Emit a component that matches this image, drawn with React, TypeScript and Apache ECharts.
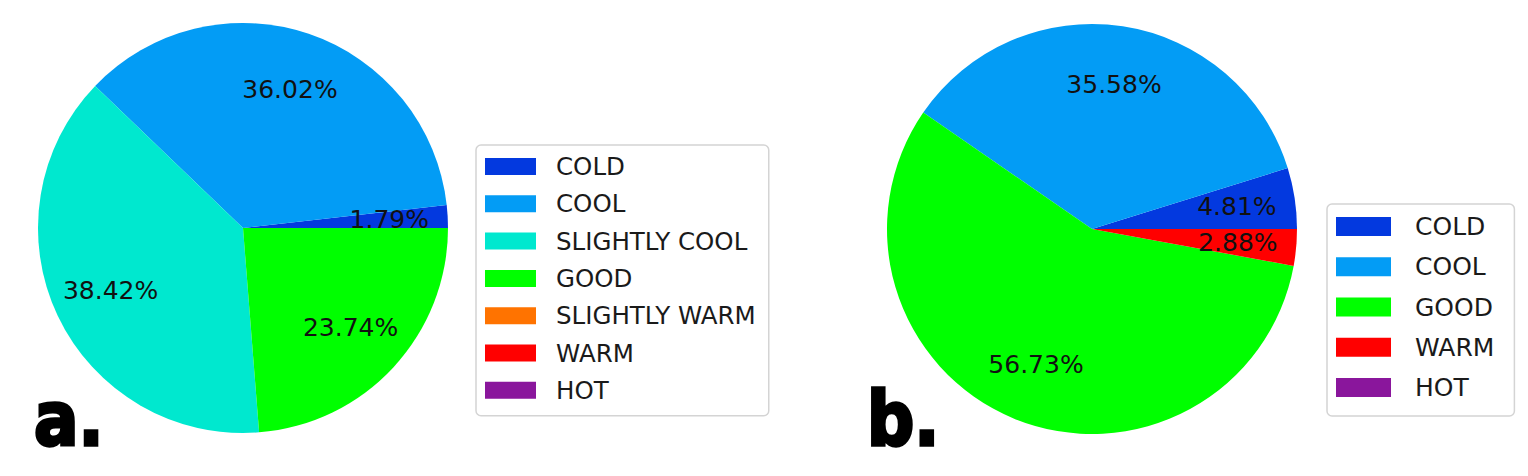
import React, { useEffect, useRef } from "react";
import * as echarts from "echarts";

const CATEGORIES_A = ["COLD", "COOL", "SLIGHTLY COOL", "GOOD", "SLIGHTLY WARM", "WARM", "HOT"];
const VALUES_A = [1.79, 36.02, 38.42, 23.74, 0, 0, 0];
const CATEGORIES_B = ["COLD", "COOL", "GOOD", "WARM", "HOT"];
const VALUES_B = [4.81, 35.58, 56.73, 2.88, 0];
const PANEL_LABELS = ["a.", "b."];

const COLORS: Record<string, string> = {
  COLD: "#0339df",
  COOL: "#039cf5",
  "SLIGHTLY COOL": "#00e8cf",
  GOOD: "#00ff00",
  "SLIGHTLY WARM": "#ff7300",
  WARM: "#ff0000",
  HOT: "#8a169c",
};

const FONT = "DejaVu Sans";

function mainPie(cats: string[], vals: number[], center: number[], radius: number) {
  return {
    type: "pie",
    center,
    radius,
    startAngle: 0,
    clockwise: false,
    silent: true,
    label: { show: false },
    labelLine: { show: false },
    data: cats.map((c, i) => ({ name: c, value: vals[i], itemStyle: { color: COLORS[c] } })),
  };
}

function labelPie(cats: string[], vals: number[], center: number[], radius: number) {
  return {
    type: "pie",
    center,
    radius: [radius * 0.4, radius],
    startAngle: 0,
    clockwise: false,
    silent: true,
    labelLine: { show: false },
    label: {
      show: true,
      position: "inside",
      fontFamily: FONT,
      fontSize: 25,
      color: "#111111",
      formatter: (p: any) => (p.value === 0 ? "" : p.value.toFixed(2) + "%"),
    },
    itemStyle: { color: "rgba(0,0,0,0)" },
    data: cats.map((c, i) => ({ name: c, value: vals[i], itemStyle: { color: "rgba(0,0,0,0)" } })),
  };
}

function panelLabel(text: string, x: number) {
  return {
    type: "text",
    x,
    y: 420,
    scaleY: 1.12,
    style: {
      text,
      font: `bold 66px "${FONT}"`,
      fill: "#000000",
      stroke: "#000000",
      lineWidth: 3,
      verticalAlign: "middle",
      align: "left",
    },
  };
}

export default function App() {
  const ref = useRef<HTMLDivElement>(null);
  useEffect(() => {
    if (!ref.current) return;
    const chart = echarts.init(ref.current, undefined, { renderer: "svg" });
    const textStyleBase = {
      fontFamily: FONT,
      fontSize: 24.5,
      color: "#1a1a1a",
      lineHeight: 25,
    };
    chart.setOption({
      animation: false,
      backgroundColor: "#ffffff",
      legend: [
        {
          orient: "vertical",
          left: 476,
          top: 145,
          data: CATEGORIES_A,
          icon: "rect",
          itemWidth: 51,
          itemHeight: 17,
          itemGap: 12.3,
          padding: [9, 13, 13, 9],
          borderColor: "#d4d4d4",
          borderWidth: 1.5,
          borderRadius: 5,
          selectedMode: false,
          textStyle: { ...textStyleBase, padding: [0, 0, 0, 15] },
        },
        {
          orient: "vertical",
          left: 1327,
          top: 204,
          data: CATEGORIES_B,
          icon: "rect",
          itemWidth: 55,
          itemHeight: 19,
          itemGap: 15.25,
          padding: [10, 20, 16, 9],
          borderColor: "#d4d4d4",
          borderWidth: 1.5,
          borderRadius: 5,
          selectedMode: false,
          textStyle: { ...textStyleBase, fontSize: 25, padding: [0, 0, 0, 19] },
        },
      ],
      series: [
        mainPie(CATEGORIES_A, VALUES_A, [243, 228], 205),
        mainPie(CATEGORIES_B, VALUES_B, [1092, 229], 205),
        labelPie(CATEGORIES_A, VALUES_A, [243, 228], 205),
        labelPie(CATEGORIES_B, VALUES_B, [1092, 229], 205),
      ],
      graphic: [panelLabel(PANEL_LABELS[0], 34), panelLabel(PANEL_LABELS[1], 867)],
    });
    return () => chart.dispose();
  }, []);
  return (
    <div
      ref={ref}
      style={{ position: "fixed", left: 0, top: 0, width: 1528, height: 476 }}
    />
  );
}
